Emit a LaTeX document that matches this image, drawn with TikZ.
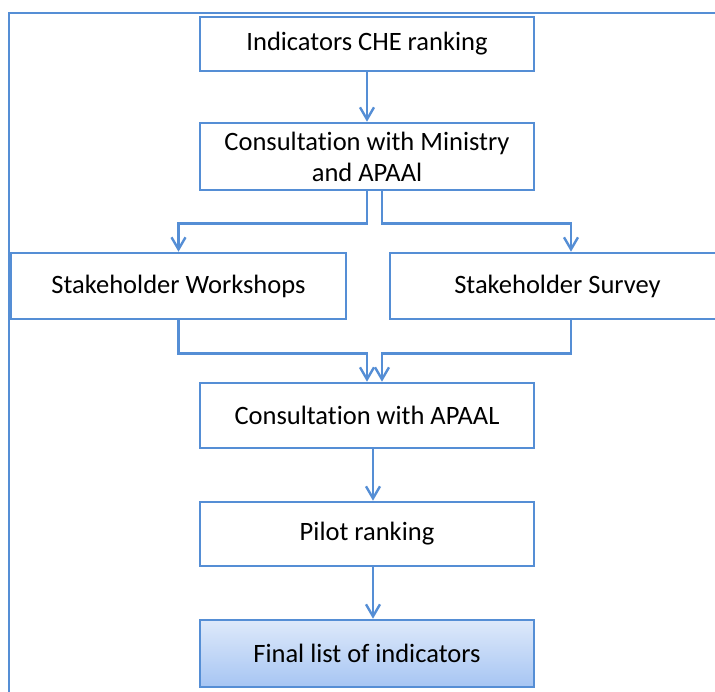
\documentclass[tikz,border=0pt]{standalone}
\usepackage{fontspec}
\setmainfont{Carlito}[RawFeature={-liga;-clig;-calt;-dlig;-rlig}]
\usetikzlibrary{arrows.meta,calc}
\definecolor{ln}{RGB}{85,142,213}
\definecolor{gtop}{RGB}{222,233,250}
\definecolor{gbot}{RGB}{166,197,243}
\begin{document}
\begin{tikzpicture}[x=1pt,y=-1pt,
  box/.style={draw=ln, line width=2.6pt, fill=white, minimum width=334pt, inner sep=0pt, align=center, font=\fontsize{26.5}{31}\selectfont, text=black},
  conn/.style={draw=ln, line width=2.6pt, -{Straight Barb[length=12pt,width=14pt,line width=2.4pt]}},
]
\useasboundingbox (0,0) rectangle (715,691);
\clip (0,0) rectangle (715,691);
\draw[ln, line width=1.6pt] (9,13) rectangle (740,720);
\node[box, minimum height=54pt] (b1) at (367,44) {Indicators CHE ranking};
\node[box, minimum height=67pt] (b2) at (367,156.5) {Consultation with Ministry\\and APAAl};
\node[box, minimum width=335pt, minimum height=66pt] (b3) at (178.5,286) {Stakeholder Workshops};
\node[box, minimum width=335pt, minimum height=66pt] (b4) at (557.5,286) {Stakeholder Survey};
\node[box, minimum height=65pt] (b5) at (367,415.5) {Consultation with APAAL};
\node[box, minimum height=64pt] (b6) at (367,534) {Pilot ranking};
\node[box, minimum height=67pt, top color=gtop, bottom color=gbot] (b7) at (367,653.5) {Final list of indicators};
\draw[conn] (b1) -- (b2);
\draw[conn] (b2.south) -- ++(0,32) -| (b3.north);
\draw[conn] ($(b2.south)+(15,0)$) -- ++(0,32) -| ($(b4.north)+(13.5,0)$);
\draw[conn] (b3.south) -- ++(0,33) -| (b5.north);
\draw[conn] ($(b4.south)+(13.5,0)$) -- ++(0,33) -| ($(b5.north)+(15,0)$);
\draw[conn] ($(b5.south)+(6,0)$) -- ($(b6.north)+(6,0)$);
\draw[conn] ($(b6.south)+(6,0)$) -- ($(b7.north)+(6,0)$);
\end{tikzpicture}
\end{document}
